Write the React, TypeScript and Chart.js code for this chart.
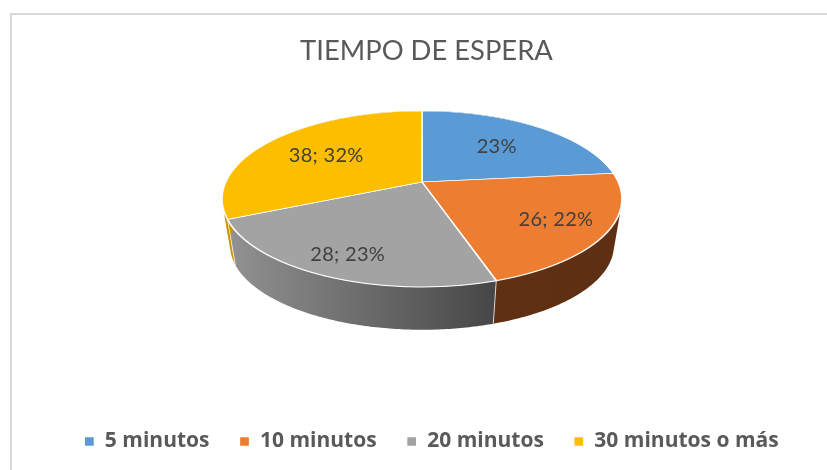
import React, { useEffect, useRef } from "react";
import { Chart, registerables } from "chart.js";

Chart.register(...registerables);

const categories = ["5 minutos", "10 minutos", "20 minutos", "30 minutos o más"];
const waitCounts = [28, 26, 28, 38];
const showValue = [false, true, true, true];
const topColors = ["#5B9BD5", "#ED7D31", "#A3A3A3", "#FDBE00"];
const wallFrom = ["#2E6AA3", "#5F3112", "#929292", "#C79600"];
const wallTo = ["#2E6AA3", "#5E2F12", "#464646", "#C79600"];
const labelReach = [0.62, 0.75, 0.8, 0.62];
const titleText = "TIEMPO DE ESPERA";

// Perspective of the disc: maps the flat pie onto the tilted ellipse.
const P = { x0: 422, y0: 182, a: 84.7, b: 0.193, k: 196.2, depthY: 47, wallScale: 0.96, top: 105, bottom: 295 };

const project = (u: number, v: number) => {
  const w = 1 - P.b * v;
  return { x: P.x0 + (P.k * u) / w, y: P.y0 + (P.a * v) / w };
};
const projectBase = (u: number, v: number) => {
  const w = 1 - P.b * v;
  return {
    x: P.x0 + (P.wallScale * P.k * u) / w,
    y: P.y0 + P.depthY + (P.wallScale * P.a * v) / w,
  };
};

const pie3d = {
  id: "pie3d",
  afterLayout(chart: any) {
    // the title is centred on the frame, the legend sits a little to its right
    chart.titleBlock.left -= 5;
    chart.titleBlock.right -= 5;
  },
  beforeDatasetsDraw(chart: any) {
    const ctx = chart.ctx as CanvasRenderingContext2D;
    const arcs = chart.getDatasetMeta(0).data as any[];
    const { x: cx, y: cy, outerRadius: R } = arcs[0];

    // side walls: all rungs between rim and base go in one path, so the silhouette is right
    ctx.save();
    arcs.forEach((arc, i) => {
      const steps = 120;
      const upper: { x: number; y: number }[] = [];
      const lower: { x: number; y: number }[] = [];
      for (let s = 0; s <= steps; s++) {
        const t = arc.startAngle + ((arc.endAngle - arc.startAngle) * s) / steps;
        upper.push(project(Math.cos(t), Math.sin(t)));
        lower.push(projectBase(Math.cos(t), Math.sin(t)));
      }
      const xs = upper.concat(lower).map((p) => p.x);
      const g = ctx.createLinearGradient(Math.min(...xs), 0, Math.max(...xs), 0);
      g.addColorStop(0, wallFrom[i]);
      g.addColorStop(1, wallTo[i]);
      ctx.fillStyle = g;
      ctx.beginPath();
      for (let s = 0; s < steps; s++) {
        let quad = [upper[s], upper[s + 1], lower[s + 1], lower[s]];
        let area = 0;
        quad.forEach((p, n) => {
          const q = quad[(n + 1) % 4];
          area += p.x * q.y - q.x * p.y;
        });
        if (area < 0) quad = quad.slice().reverse();
        quad.forEach((p, n) => (n ? ctx.lineTo(p.x, p.y) : ctx.moveTo(p.x, p.y)));
        ctx.closePath();
      }
      ctx.fill("nonzero");
      // thin light seam where two walls meet
      ctx.beginPath();
      ctx.moveTo(upper[0].x, upper[0].y);
      ctx.lineTo(lower[0].x, lower[0].y);
      ctx.strokeStyle = "rgba(255,255,255,0.7)";
      ctx.lineWidth = 1;
      ctx.stroke();
    });
    ctx.restore();

    // top face: the library's own arcs, drawn row by row through the perspective
    for (let row = P.top; row < P.bottom; row++) {
      const ym = row + 0.5;
      const dy = ym - P.y0;
      const v = dy / (P.a + P.b * dy);
      const w = 1 - P.b * v;
      if (Math.abs(v) > 1.02) continue;
      const sx = P.k / (w * R);
      const sy = P.a / (w * w * R);
      ctx.save();
      ctx.beginPath();
      ctx.rect(0, row, chart.width, 1);
      ctx.clip();
      ctx.setTransform(sx, 0, 0, sy, P.x0 - cx * sx, ym - (cy + v * R) * sy);
      arcs.forEach((arc) => arc.draw(ctx));
      ctx.restore();
    }

    // data labels
    const total = waitCounts.reduce((a, b) => a + b, 0);
    ctx.save();
    ctx.font = "20px Lato";
    (ctx as any).letterSpacing = "0.3px";
    ctx.fillStyle = "#404040";
    ctx.textAlign = "center";
    ctx.textBaseline = "middle";
    arcs.forEach((arc, i) => {
      const mid = (arc.startAngle + arc.endAngle) / 2;
      const p = project(Math.cos(mid) * labelReach[i], Math.sin(mid) * labelReach[i]);
      const pct = Math.round((waitCounts[i] / total) * 100) + "%";
      ctx.fillText(showValue[i] ? `${waitCounts[i]}; ${pct}` : pct, p.x, p.y);
    });
    ctx.restore();
    return false;
  },
};

export default function App() {
  const ref = useRef<HTMLCanvasElement>(null);
  useEffect(() => {
    const chart = new Chart(ref.current!, {
      type: "pie",
      data: {
        labels: categories,
        datasets: [
          {
            data: waitCounts,
            backgroundColor: topColors,
            borderColor: "#FFFFFF",
            borderWidth: 1.3,
          },
        ],
      },
      options: {
        responsive: false,
        animation: false,
        layout: { padding: { top: 35, bottom: 8, left: 10, right: 0 } },
        plugins: {
          title: {
            display: true,
            text: titleText,
            color: "#595959",
            font: { family: "Lato", size: 27.4, weight: "normal" },
            padding: { top: 0, bottom: 10 },
          },
          legend: {
            position: "bottom",
            labels: {
              boxWidth: 10,
              boxHeight: 10,
              padding: 30,
              color: "#595959",
              font: { family: "'Open Sans'", size: 21, weight: "bold" },
            },
          },
          tooltip: { enabled: false },
        },
      },
      plugins: [pie3d],
    } as any);
    return () => chart.destroy();
  }, []);
  return (
    <div style={{ position: "fixed", left: 0, top: 0, width: 827, height: 470, overflow: "hidden", background: "#fff" }}>
      <canvas ref={ref} width={853} height={470} style={{ position: "absolute", left: 0, top: 0 }} />
      <div style={{ position: "absolute", left: 10, top: 13, width: 900, height: 600, borderLeft: "2px solid #D9D9D9", borderTop: "2px solid #D9D9D9" }} />
    </div>
  );
}
